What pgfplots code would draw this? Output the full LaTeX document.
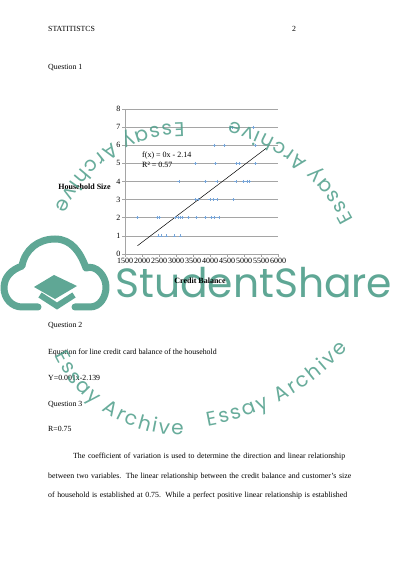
\documentclass[border=0pt]{standalone}
\usepackage{fontspec}
\setmainfont{Liberation Serif}
\newfontfamily\poppins{Poppins}
\usepackage{graphicx}
\usepackage{pgfplots}
\pgfplotsset{compat=1.18}
\usetikzlibrary{decorations.text}
\definecolor{wm}{RGB}{78,158,138}
\definecolor{grd}{RGB}{165,165,165}
\definecolor{pt}{RGB}{120,165,215}
\newcommand\bodyf{\fontsize{7.84bp}{9bp}\selectfont}
\newcommand\tickf{\fontsize{8bp}{9bp}\selectfont}
\newcommand\wmf{\fontsize{20bp}{20bp}\selectfont\poppins}
\begin{document}
\begin{tikzpicture}[x=1bp,y=1bp]
\fill[white] (0,0) rectangle (400,566);
\useasboundingbox (0,0) rectangle (400,566);
% background watermark (behind chart)
\begin{scope}[opacity=0.9]
\node[anchor=base west, inner sep=0pt, text=wm] at (115,268) {\resizebox{277bp}{!}{\poppins StudentShare}};
\draw[wm, line width=7bp, line cap=round, line join=round]
  (38,259) -- (22,259) to[out=180,in=270] (4,278) to[out=90,in=200] (22,300)
  to[out=80,in=180] (55,327) to[out=0,in=110] (86,298) to[out=20,in=90] (106,279)
  to[out=270,in=0] (90,259) -- (75,259);
\fill[wm] (54,291) -- (34,279) -- (55,267) -- (77,280) -- cycle;
\draw[wm, line width=6bp, line join=miter] (40,271) -- (57,260) -- (74,271);
\end{scope}
% page text
\begin{scope}[every node/.style={inner sep=0pt, anchor=base west, font=\bodyf}]
\node at (48,534.5) {STATITISTCS};
\node at (292,534.5) {2};
\node at (48,496.5) {Question 1};
\node at (48,238.5) {Question 2};
\node at (48,211.5) {Equation for line credit card balance of the household};
\node at (48,185.5) {Y=0.001x-2.139};
\node at (48,159.5) {Question 3};
\node at (48,134) {R=0.75};
\node at (73,107.5) {\makebox[272bp][s]{The coefficient of variation is used to determine the direction and linear relationship}};
\node at (48,87.5) {\makebox[303bp][s]{between two variables. The linear relationship between the credit balance and customer’s size}};
\node at (48,68.5) {\makebox[299bp][s]{of household is established at 0.75. While a perfect positive linear relationship is established}};
\end{scope}
% chart
\begin{axis}[
  at={(125bp,312bp)}, anchor=south west, scale only axis,
  width=153bp, height=145bp,
  xmin=1500, xmax=6000, ymin=0, ymax=8,
  xtick={1500,2000,...,6000}, ytick={0,1,...,8},
  scaled x ticks=false,
  axis lines*=left, axis line style={grd, line width=0.6pt},
  ymajorgrids, grid style={grd, line width=0.6pt},
  tick align=outside, major tick length=3bp, tick style={grd, line width=0.6pt},
  tick label style={font=\tickf},
  xticklabel style={inner sep=0.5pt},
  yticklabel style={inner sep=1.5pt},
  /pgf/number format/assume math mode=true,
  /pgf/number format/1000 sep={},
  clip=false,
]
\addplot[only marks, mark=+, mark size=1.6bp, color=pt, mark options={line width=0.5pt}] coordinates {
 (4600,7) (4660,7) (5270,7)
 (4130,6) (4420,6) (5330,6)
 (3575,5) (4160,5) (4780,5) (4850,5) (5330,5)
 (3085,4) (3870,4) (4200,4) (4760,4) (4990,4) (5090,4) (5160,4)
 (3575,3) (3650,3) (3995,3) (4110,3) (4200,3) (4680,3)
 (1870,2) (2460,2) (2510,2) (2980,2) (3060,2) (3115,2) (3180,2) (3360,2) (3600,2) (3870,2) (4040,2) (4130,2) (4260,2)
 (2480,1) (2575,1) (2720,1) (2955,1) (3130,1)
};
\addplot[black, line width=0.5pt] coordinates {(1870,0.46) (5657,5.84)};
\node[anchor=base west, inner sep=0pt, font=\tickf] at (axis cs:2000,5.3) {f(x) = 0x - 2.14};
\node[anchor=base west, inner sep=0pt, font=\tickf] at (axis cs:2000,4.75) {R² = 0.57};
\node[font=\tickf\bfseries, inner sep=0pt] at (axis description cs:-0.265,0.462) {Household Size};
\node[font=\tickf\bfseries, inner sep=0pt] at (axis description cs:0.49,-0.186) {Credit Balance};
\end{axis}
% arc watermarks (on top)
\begin{scope}[opacity=0.85]
\path[decorate, decoration={text along path, text={|\wmf|Essay Archive}, text color=wm, text align={fit to path}}]
  ([shift={(184,303)}]90:140) arc[start angle=90, end angle=157, radius=140];
\path[decorate, decoration={text along path, text={|\wmf|Essay Archive}, text color=wm, text align={fit to path}}]
  ([shift={(185,261)}]27:189) arc[start angle=27, end angle=76, radius=189];
\path[decorate, decoration={text along path, text={|\wmf|Essay Archive}, text color=wm, text align={fit to path}}]
  ([shift={(181,272)}]206:141) arc[start angle=206, end angle=271, radius=141];
\path[decorate, decoration={text along path, text={|\wmf|Essay Archive}, text color=wm, text align={fit to path}}]
  ([shift={(165,382)}]280:246) arc[start angle=280, end angle=318, radius=246];
\end{scope}
\end{tikzpicture}
\end{document}
